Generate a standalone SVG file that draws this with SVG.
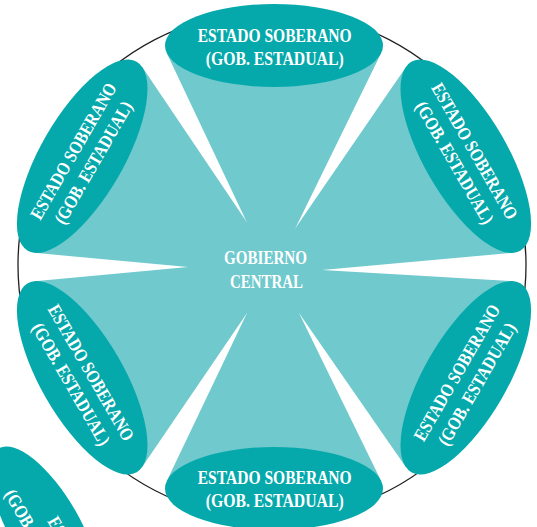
<svg xmlns="http://www.w3.org/2000/svg" width="537" height="527" viewBox="0 0 537 527">
<style>
.bg{fill:#ffffff}
.ring{fill:none;stroke:#231f20;stroke-width:1.3}
.wedge{fill:#6fc9cd}
.node{fill:#05a9ab}
.t{font-family:"Liberation Serif","Times New Roman",serif;font-weight:bold;font-size:18.5px;fill:#ffffff;text-anchor:middle}
.ts{font-family:"Liberation Serif","Times New Roman",serif;font-weight:bold;font-size:18.5px;fill:#ffffff;text-anchor:start}
</style>
<rect class="bg" x="0" y="0" width="537" height="527"/>
<circle class="ring" cx="272" cy="265" r="254"/>
<g id="connectors">
  <polygon class="wedge" points="246.7,222 295.5,228 322,270 299,313 247,313 188,267"/>
  <polygon class="wedge" points="166.7,52.9 246.7,222 273,268 295.5,228 381.2,53.1"/>
  <polygon class="wedge" points="142.4,67.2 246.7,222 273,268 188,267 34.7,252.85"/>
  <polygon class="wedge" points="34.7,281.15 188,267 273,268 247,313 142.3,466.85"/>
  <polygon class="wedge" points="166.8,481.1 247,313 273,268 299,313 381.2,480.9"/>
  <polygon class="wedge" points="405.8,467 299,313 273,268 322,270 512.6,281.15"/>
  <polygon class="wedge" points="513.3,252.75 322,270 273,268 295.5,228 405.8,67.15"/>
</g>
<g id="node-center">
  <text class="t" x="265.5" y="264" textLength="83" lengthAdjust="spacingAndGlyphs">GOBIERNO</text>
  <text class="t" x="266.5" y="288" textLength="73" lengthAdjust="spacingAndGlyphs">CENTRAL</text>
</g>
<g id="node-top" transform="translate(274,45.5)">
  <ellipse class="node" cx="0" cy="0" rx="109" ry="41.5"/>
  <text class="t" x="0.7" y="-3.8" textLength="154" lengthAdjust="spacingAndGlyphs">ESTADO SOBERANO</text>
  <text class="t" x="0.7" y="19.5" textLength="138" lengthAdjust="spacingAndGlyphs">(GOB. ESTADUAL)</text>
</g>
<g id="node-upper-left" transform="translate(82.2,156.25) rotate(-60)">
  <ellipse class="node" cx="0" cy="0" rx="109" ry="41.5"/>
  <text class="t" x="0" y="-4" textLength="154" lengthAdjust="spacingAndGlyphs">ESTADO SOBERANO</text>
  <text class="t" x="0" y="19" textLength="138" lengthAdjust="spacingAndGlyphs">(GOB. ESTADUAL)</text>
</g>
<g id="node-upper-right" transform="translate(465.8,156.25) rotate(60)">
  <ellipse class="node" cx="0" cy="0" rx="109" ry="41.5"/>
  <text class="t" x="0" y="-4" textLength="154" lengthAdjust="spacingAndGlyphs">ESTADO SOBERANO</text>
  <text class="t" x="0" y="19" textLength="138" lengthAdjust="spacingAndGlyphs">(GOB. ESTADUAL)</text>
</g>
<g id="node-lower-left" transform="translate(82.2,377.75) rotate(60)">
  <ellipse class="node" cx="0" cy="0" rx="109" ry="41.5"/>
  <text class="t" x="0" y="-4" textLength="154" lengthAdjust="spacingAndGlyphs">ESTADO SOBERANO</text>
  <text class="t" x="0" y="19" textLength="138" lengthAdjust="spacingAndGlyphs">(GOB. ESTADUAL)</text>
</g>
<g id="node-lower-right" transform="translate(465.8,377.75) rotate(-60)">
  <ellipse class="node" cx="0" cy="0" rx="109" ry="41.5"/>
  <text class="t" x="0" y="-4" textLength="154" lengthAdjust="spacingAndGlyphs">ESTADO SOBERANO</text>
  <text class="t" x="0" y="19" textLength="138" lengthAdjust="spacingAndGlyphs">(GOB. ESTADUAL)</text>
</g>
<g id="node-bottom" transform="translate(274,488.5)">
  <ellipse class="node" cx="0" cy="0" rx="109" ry="41.5"/>
  <text class="t" x="0.7" y="-4.5" textLength="154" lengthAdjust="spacingAndGlyphs">ESTADO SOBERANO</text>
  <text class="t" x="0.7" y="18.5" textLength="138" lengthAdjust="spacingAndGlyphs">(GOB. ESTADUAL)</text>
</g>
<g id="node-stray">
  <ellipse class="node" cx="45" cy="528" rx="92" ry="35" transform="rotate(60 45 528)"/>
  <text class="ts" x="4" y="494" transform="rotate(60 4 494)" textLength="138" lengthAdjust="spacingAndGlyphs">(GOB. ESTADUAL)</text>
  <text class="ts" x="47" y="521" transform="rotate(60 47 521)" textLength="154" lengthAdjust="spacingAndGlyphs">ESTADO SOBERANO</text>
</g>
</svg>
